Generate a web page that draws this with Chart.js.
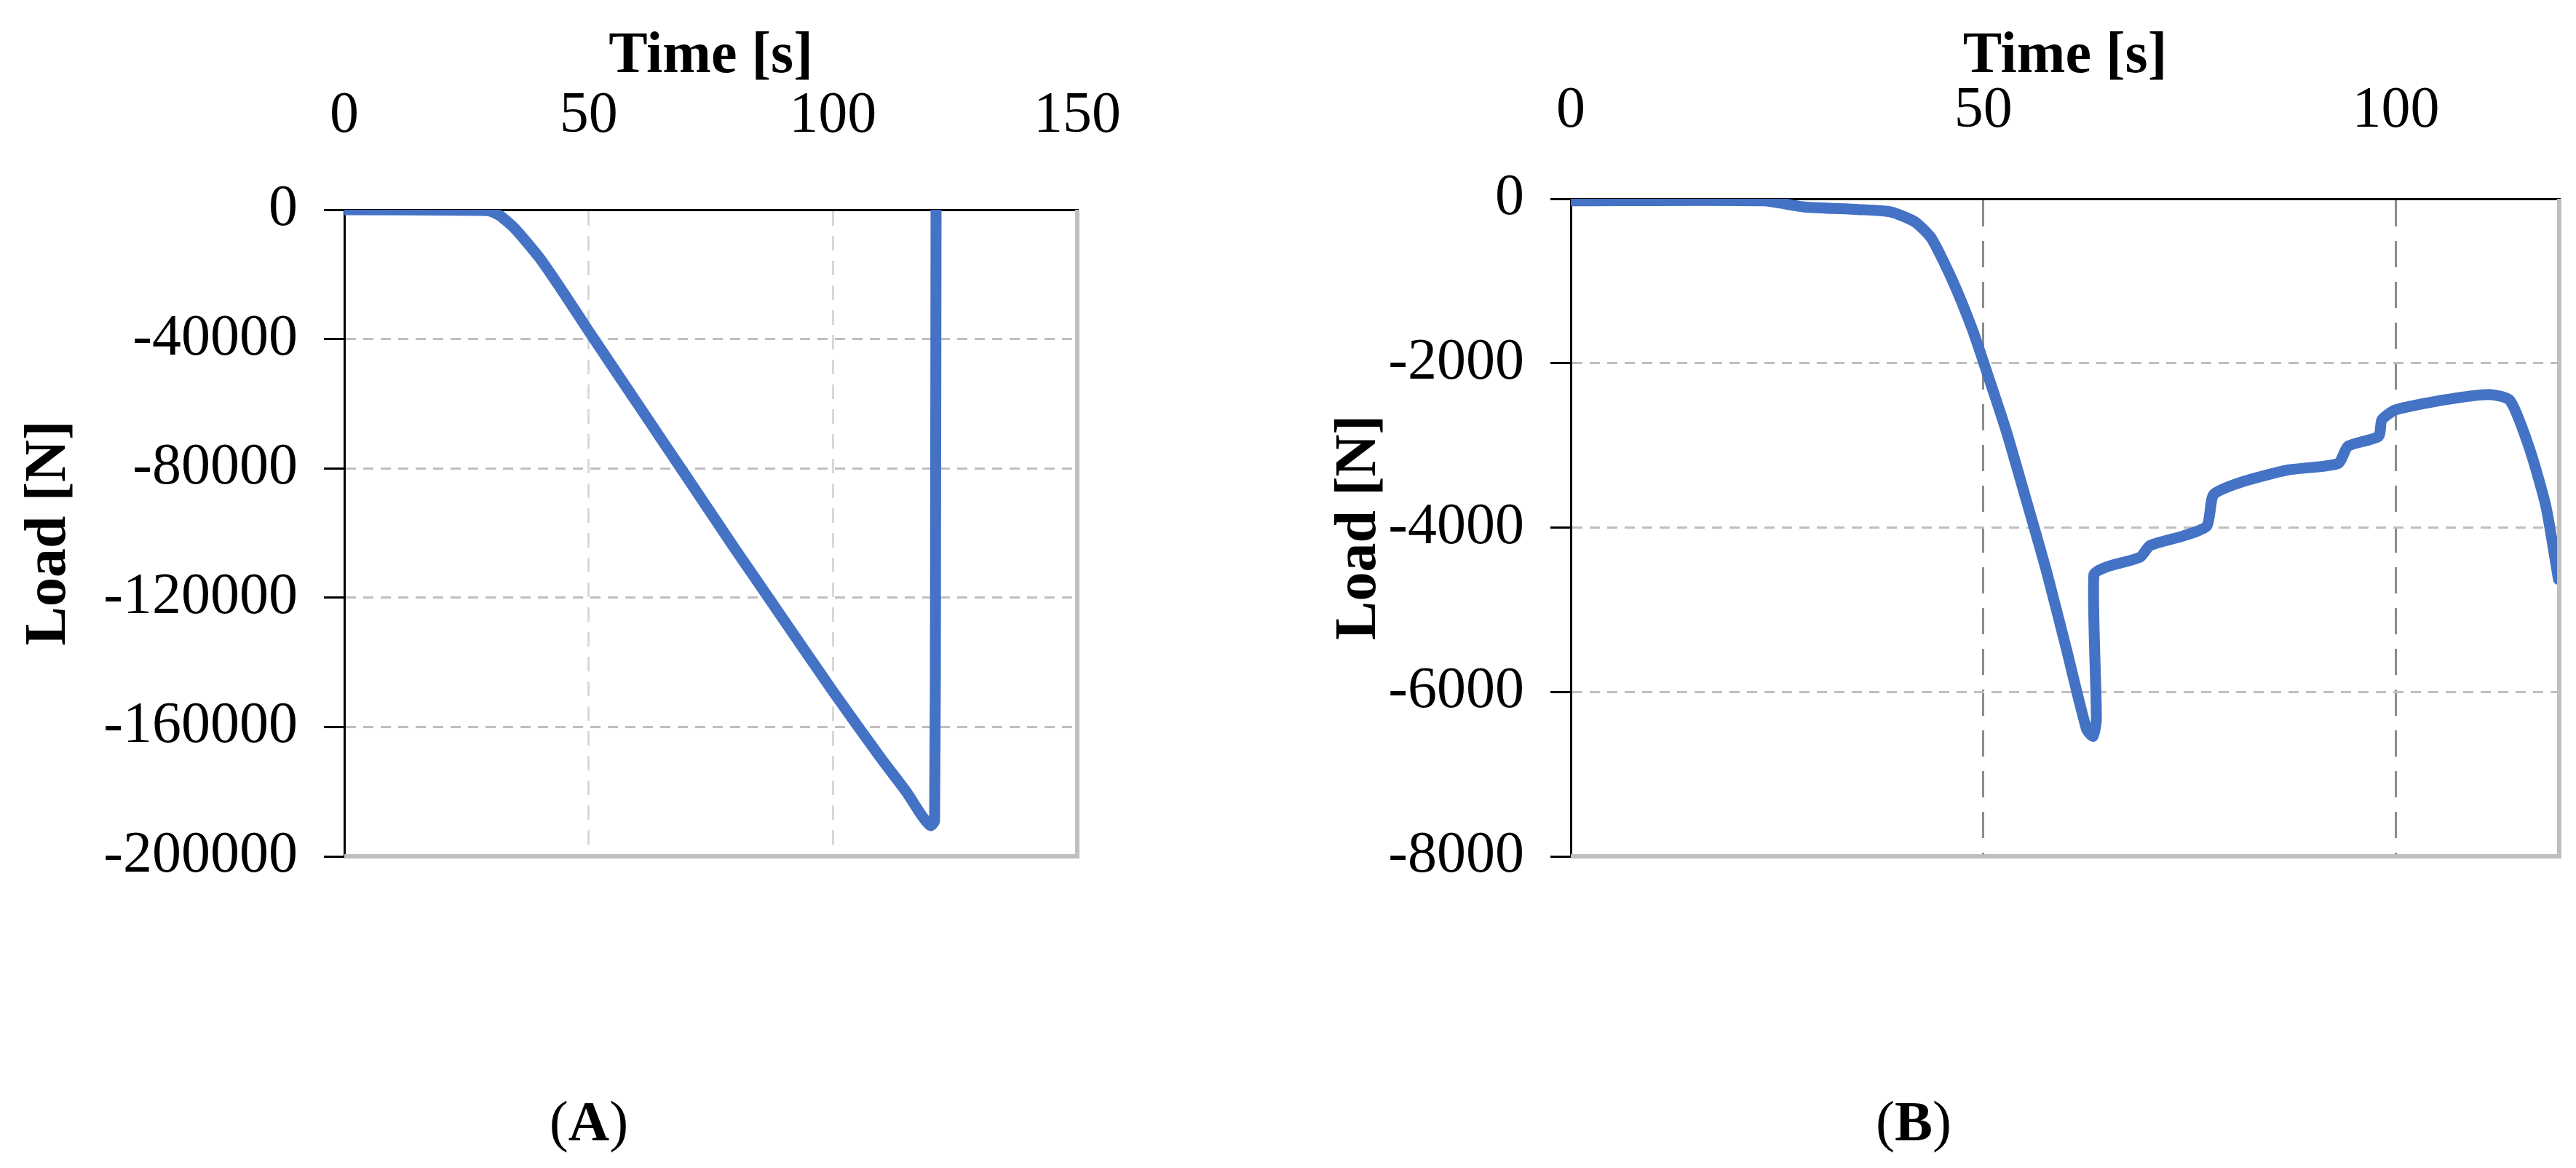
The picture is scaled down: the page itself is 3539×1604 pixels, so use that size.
<!DOCTYPE html>
<html lang="en">
<head>
<meta charset="UTF-8">
<title>Load vs Time</title>
<script src="https://cdn.jsdelivr.net/npm/chart.js"></script>
<style>
  body { margin: 0; background: #fff; width: 3539px; height: 1604px; position: relative; overflow: hidden; }
  canvas { position: absolute; top: 0; }
  .cap { position: absolute; top: 1495px; font: 78px "Liberation Serif", serif; transform: translateX(-50%); }
</style>
</head>
<body>
<canvas id="chartA" width="1620" height="1260" style="left:0"></canvas>
<canvas id="chartB" width="1739" height="1260" style="left:1800px"></canvas>
<div class="cap" style="left:809px">(<b>A</b>)</div>
<div class="cap" style="left:2629px">(<b>B</b>)</div>
<script>
// Panel A: time [s] and load [N]
const timeA = [0, 28, 30, 32, 35, 40, 45, 50, 60, 70, 80, 90, 100, 110, 115, 118, 120, 120.8, 121, 121.1];
const loadA = [0, -200, -500, -2000, -6000, -15000, -26000, -37500, -60000, -82500, -105000, -127000, -149000, -170000, -180000, -187000, -190500, -189000, -100000, 0];

// Panel B
const timeB = [0, 23.4, 28.3, 34.8, 38.8, 41.7, 43.7, 46.2, 48.6, 50.2, 52.7, 55.1, 57.6, 60, 62.5, 63.3, 63.7, 63.4, 64.9, 69, 70.2, 74.3, 77.1, 77.9, 81.2, 86.9, 93, 94.2, 97.9, 98.3, 99.9, 105.6, 111.3, 113.8, 116.2, 118.2, 119.7];
const loadB = [-25, -25, -100, -130, -160, -280, -480, -980, -1570, -2040, -2800, -3630, -4510, -5450, -6450, -6540, -6330, -4570, -4480, -4360, -4220, -4100, -3980, -3600, -3450, -3300, -3220, -3010, -2890, -2690, -2570, -2450, -2380, -2450, -3040, -3750, -4630];

const FONT = "'Liberation Serif', serif";
const BLUE = '#4472c4';

const frame = {
  id: 'frame',
  afterDraw(chart) {
    const { ctx, chartArea: a } = chart;
    ctx.save();
    ctx.strokeStyle = '#bfbfbf';
    ctx.lineWidth = 6;
    ctx.beginPath();
    ctx.moveTo(a.right, a.top);
    ctx.lineTo(a.right, a.bottom);
    ctx.lineTo(a.left, a.bottom);
    ctx.stroke();
    ctx.restore();
  }
};

function makeChart(id, xs, ys, opt) {
  return new Chart(document.getElementById(id), {
    type: 'line',
    data: {
      datasets: [{
        data: xs.map((x, i) => ({ x: x, y: ys[i] })),
        borderColor: BLUE,
        borderWidth: 15,
        pointRadius: 0,
        tension: 0.2,
        borderCapStyle: 'round',
        borderJoinStyle: 'round'
      }]
    },
    plugins: [frame],
    options: {
      responsive: false,
      devicePixelRatio: 1,
      animation: false,
      layout: { padding: { right: opt.padRight, bottom: 30 } },
      plugins: { legend: { display: false }, tooltip: { enabled: false } },
      scales: {
        x: {
          type: 'linear',
          position: 'top',
          min: 0,
          max: opt.xMax,
          afterFit: s => { s.height = opt.top; },
          afterBuildTicks: s => { s.ticks = opt.xTicks.map(v => ({ value: v })); },
          ticks: { font: { family: FONT, size: 80 }, color: '#000', padding: opt.xPad, callback: v => String(v) },
          grid: { color: opt.vGrid, lineWidth: 3, drawTicks: false },
          border: { color: '#000', width: 3, dash: opt.vDash },
          title: { display: true, text: 'Time [s]', font: { family: FONT, size: 80, weight: 'bold' }, color: '#000', padding: { top: 30, bottom: 0 } }
        },
        y: {
          min: opt.yMin,
          max: 0,
          afterFit: s => { s.width = opt.left; },
          ticks: { stepSize: opt.yStep, font: { family: FONT, size: 80 }, color: '#000', padding: 36, callback: v => String(v) },
          grid: { color: '#bfbfbf', lineWidth: 3, tickColor: '#000', tickLength: 28 },
          border: { color: '#000', width: 3, dash: [14, 10] },
          title: { display: true, text: 'Load [N]', font: { family: FONT, size: 80, weight: 'bold' }, color: '#000', padding: { top: 20, bottom: 0 } }
        }
      }
    }
  });
}

makeChart('chartA', timeA, loadA, { xMax: 150, xTicks: [0, 50, 100, 150], xPad: 80, yMin: -200000, yStep: 40000, left: 473, top: 288, padRight: 30, vGrid: '#d9d9d9', vDash: [20, 14] });
makeChart('chartB', timeB, loadB, { xMax: 119.8, xTicks: [0, 50, 100], xPad: 72, yMin: -8000, yStep: 2000, left: 358, top: 273, padRight: 23, vGrid: '#8c8c8c', vDash: [36, 20] });
</script>
</body>
</html>
